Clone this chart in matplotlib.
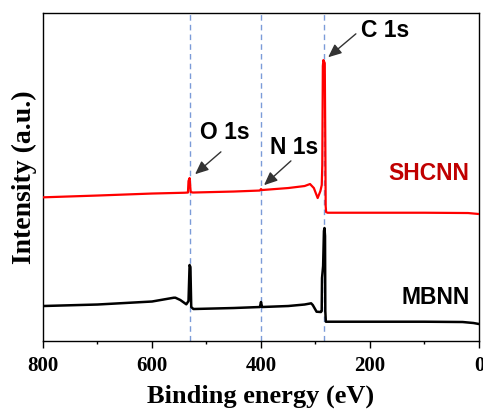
import matplotlib
matplotlib.use("Agg")
import matplotlib.pyplot as plt
from matplotlib.ticker import MultipleLocator

# energia de ligação (eV) e intensidade (u.a.)
shcnn_e = [800, 700, 600, 540, 534, 533, 531, 529, 525, 450, 402, 400, 398,
           350, 320, 310, 303, 296, 291, 288.5, 287.5, 286.5, 285.5, 283, 282,
           281.3, 280.5, 278, 200, 100, 20, 0]
shcnn_i = [143.7, 145.5, 147.5, 148.3, 148.5, 160, 163, 149, 148.5, 149.5, 150.5,
           152, 151, 153, 155, 157, 153, 143, 150, 156, 176, 275, 281, 278, 200,
           135, 129, 128.3, 128.3, 128.3, 128, 127]

mbnn_e = [800, 700, 650, 600, 560, 557, 548, 537, 533, 531, 529.5, 528, 524,
          450, 402, 400, 398, 350, 320, 308, 305, 298, 290, 288.6, 288, 286,
          284.5, 283.5, 282.5, 282, 281, 200, 100, 30, 10, 0]
mbnn_i = [35, 36.5, 38, 39.5, 43.3, 43.3, 41, 36.7, 40, 76, 74, 34, 32, 33, 34,
          39, 34, 35, 36.5, 37.7, 36, 29.3, 29, 30, 63, 75, 110, 113, 105, 30,
          19.3, 19.3, 19.3, 19, 18, 17]

picos = [531, 400, 284]

fig = plt.figure(figsize=(4.83, 4.12), dpi=100)
ax = fig.add_axes([0.089, 0.1723, 0.9027, 0.796])

for p in picos:
    ax.axvline(p, color='#7b9bd8', lw=1, ls=(0, (4, 3)), zorder=1)

ax.plot(shcnn_e, shcnn_i, color='#ff0000', lw=1.6, zorder=3)
ax.plot(mbnn_e, mbnn_i, color='black', lw=1.8, zorder=3)

ax.set_xlim(800, 0)
ax.set_ylim(0, 328)
ax.set_yticks([])
ax.xaxis.set_major_locator(MultipleLocator(200))
ax.xaxis.set_minor_locator(MultipleLocator(100))
ax.tick_params(axis='x', which='major', direction='out', length=5, width=1, pad=6)
ax.tick_params(axis='x', which='minor', direction='out', length=2.5, width=1)
for s in ax.spines.values():
    s.set_linewidth(1)

serif = {'family': 'Liberation Serif', 'weight': 'bold'}
for lb in ax.get_xticklabels():
    lb.set_fontfamily('Liberation Serif')
    lb.set_fontweight('bold')
    lb.set_fontsize(15)
ax.set_xlabel('Binding energy (eV)', fontdict=serif, fontsize=19, labelpad=6)
ax.set_ylabel('Intensity (a.u.)', fontdict=serif, fontsize=20, labelpad=4)

sans = {'family': 'Liberation Sans', 'weight': 'bold', 'fontsize': 16.5}
ax.text(467, 209, 'O 1s', ha='center', va='center', **sans)
ax.text(339.5, 194, 'N 1s', ha='center', va='center', **sans)
ax.text(172.5, 311, 'C 1s', ha='center', va='center', **sans)
ax.text(92.7, 168, 'SHCNN', ha='center', va='center', color='#c00000', **sans)
ax.text(79, 44, 'MBNN', ha='center', va='center', color='black', **sans)

seta = dict(arrowstyle='-|>,head_length=0.8,head_width=0.35', color='#333333', lw=1)
ax.annotate('', xy=(524.8, 165), xytext=(469.7, 191), arrowprops=seta)
ax.annotate('', xy=(398.2, 154), xytext=(341.3, 182), arrowprops=seta)
ax.annotate('', xy=(280.7, 282), xytext=(222, 309), arrowprops=seta)

fig.savefig('out.png', dpi=100)
